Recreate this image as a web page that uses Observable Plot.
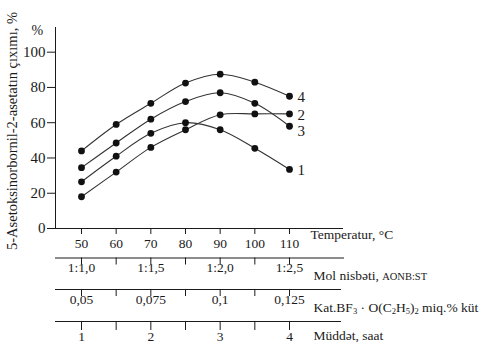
<!DOCTYPE html>
<html>
<head>
<meta charset="utf-8">
<script src="https://cdn.jsdelivr.net/npm/d3@7"></script>
<script src="https://cdn.jsdelivr.net/npm/@observablehq/plot@0.6"></script>
<style>
  html, body { margin: 0; padding: 0; background: #fff; }
  #chart { width: 486px; height: 345px; position: relative; overflow: hidden; }
  #chart svg { display: block; overflow: visible; font-family: 'Liberation Serif', serif; }
  #chart svg text { font-family: 'Liberation Serif', serif; }
</style>
</head>
<body>
<div id="chart"></div>
<script>
// ---- data ----
const temperature = [50, 60, 70, 80, 90, 100, 110];
const yield1 = [26.5, 41, 54, 60, 56, 45.5, 33.5];
const yield2 = [18, 32, 46, 56, 64.5, 65, 65];
const yield3 = [34.5, 48.5, 62, 72, 77, 71, 58];
const yield4 = [44, 59, 71, 82.5, 87.5, 83, 75];
const seriesNames = ["1", "2", "3", "4"];
const yTicks = [0, 20, 40, 60, 80, 100];
const molLabels = ["1:1,0", "1:1,5", "1:2,0", "1:2,5"];
const catLabels = ["0,05", "0,075", "0,1", "0,125"];
const timeLabels = ["1", "2", "3", "4"];
const yTitle = "5-Asetoksinorbornil-2-asetatın çıxımı, %";
const tempTitle = "Temperatur, °C";
const molTitle = "Mol nisbəti, AONB:ST";
const catTitle = "Kat.BF3·O(C2H5)2 miq.% küt";
const timeTitle = "Müddət, saat";

const allYields = [yield1, yield2, yield3, yield4];
const rows = [];
allYields.forEach((vals, k) => vals.forEach((v, i) => rows.push({t: temperature[i], v, s: seriesNames[k]})));
const lastRows = rows.filter(d => d.t === temperature[temperature.length - 1]);

const FONT = "'Liberation Serif', serif";
const INK = "#1a1a1a";
const xScale = {domain: [50, 110], range: [81, 289]};
const baseStyle = {fontFamily: FONT, background: "transparent", overflow: "visible", color: INK};

const chart = document.getElementById("chart");

const main = Plot.plot({
  width: 486, height: 250,
  marginLeft: 55, marginRight: 143, marginTop: 27, marginBottom: 22,
  x: {...xScale, axis: null},
  y: {domain: [0, 114], axis: null},
  style: baseStyle,
  marks: [
    Plot.frame({anchor: "left", stroke: INK}),
    Plot.ruleY([0], {stroke: INK}),
    Plot.axisY(yTicks, {tickSize: 8, tickPadding: 2, fontSize: 15, fontFamily: FONT, label: null, stroke: INK}),
    Plot.axisX(temperature, {tickSize: 6, tickPadding: 4, fontSize: 13.5, fontFamily: FONT, label: null, stroke: INK}),
    Plot.text(["%"], {frameAnchor: "top-left", dx: -24, dy: -2, fontSize: 14, fontFamily: FONT, fill: INK}),
    Plot.text([yTitle], {frameAnchor: "left", textAnchor: "middle", rotate: -90, dx: -43, dy: 3, fontSize: 14.5, fontFamily: FONT, fill: INK}),
    Plot.text([tempTitle], {frameAnchor: "bottom-right", textAnchor: "start", dx: -33, dy: 10, fontSize: 13.5, fontFamily: FONT, fill: INK}),
    Plot.line(rows, {x: "t", y: "v", z: "s", curve: "catmull-rom", stroke: "#333", strokeWidth: 1.1}),
    Plot.dot(rows, {x: "t", y: "v", r: 3.4, fill: "#111"}),
    Plot.text(lastRows.filter(d => d.s !== "3"), {x: "t", y: "v", text: "s", dx: 8, dy: 1, textAnchor: "start", fontSize: 15, fontFamily: FONT, fill: INK}),
    Plot.text(lastRows.filter(d => d.s === "3"), {x: "t", y: "v", text: "s", dx: 8, dy: 5, textAnchor: "start", fontSize: 15, fontFamily: FONT, fill: INK})
  ]
});
chart.appendChild(main);

function lowerAxis({labels, title, height, marginTop, tickLen, marginRight, labelDy, titleDx, titleDy}) {
  return Plot.plot({
    width: 486, height,
    marginLeft: 55, marginRight, marginTop, marginBottom: height - marginTop - tickLen,
    x: {...xScale, axis: null},
    style: baseStyle,
    marks: [
      Plot.frame({anchor: "top", stroke: INK}),
      Plot.ruleX(temperature, {stroke: INK}),
      Plot.text(labels, {x: (d, i) => temperature[2 * i], text: d => d, frameAnchor: "top", lineAnchor: "top", dy: labelDy, fontSize: 13.5, fontFamily: FONT, fill: INK}),
      Plot.text([title], {frameAnchor: "top-right", textAnchor: "start", dx: titleDx, dy: titleDy, fontSize: 13.5, fontFamily: FONT, fill: INK})
    ]
  });
}

const mol = lowerAxis({labels: molLabels, title: molTitle, height: 32, marginTop: 7.5, tickLen: 7, marginRight: 143, labelDy: 4, titleDx: -30, titleDy: 12});
const cat = lowerAxis({labels: catLabels, title: catTitle, height: 32, marginTop: 7, tickLen: 7, marginRight: 146, labelDy: 5, titleDx: -27, titleDy: 13});
const time = lowerAxis({labels: timeLabels, title: timeTitle, height: 31, marginTop: 7, tickLen: 9, marginRight: 146, labelDy: 10, titleDx: -27, titleDy: 9});
chart.appendChild(mol);
chart.appendChild(cat);
chart.appendChild(time);

// rich text for titles with smaller parts / subscripts
function richText(svg, plain, parts) {
  d3.select(svg).selectAll("text").filter(function() { return this.textContent === plain; }).each(function() {
    const t = d3.select(this);
    t.text(null);
    parts.forEach(p => {
      const sp = t.append("tspan").text(p.text);
      if (p.size) sp.attr("font-size", p.size);
      if (p.sub) sp.attr("baseline-shift", "-25%");
    });
  });
}
richText(mol, molTitle, [{text: "Mol nisbəti, "}, {text: "AONB:ST", size: 10.5}]);
richText(cat, catTitle, [
  {text: "Kat.BF"}, {text: "3", size: 8.5, sub: true}, {text: " · O(C"}, {text: "2", size: 8.5, sub: true},
  {text: "H"}, {text: "5", size: 8.5, sub: true}, {text: ")"}, {text: "2", size: 8.5, sub: true}, {text: " miq.% küt"}
]);
</script>
</body>
</html>
